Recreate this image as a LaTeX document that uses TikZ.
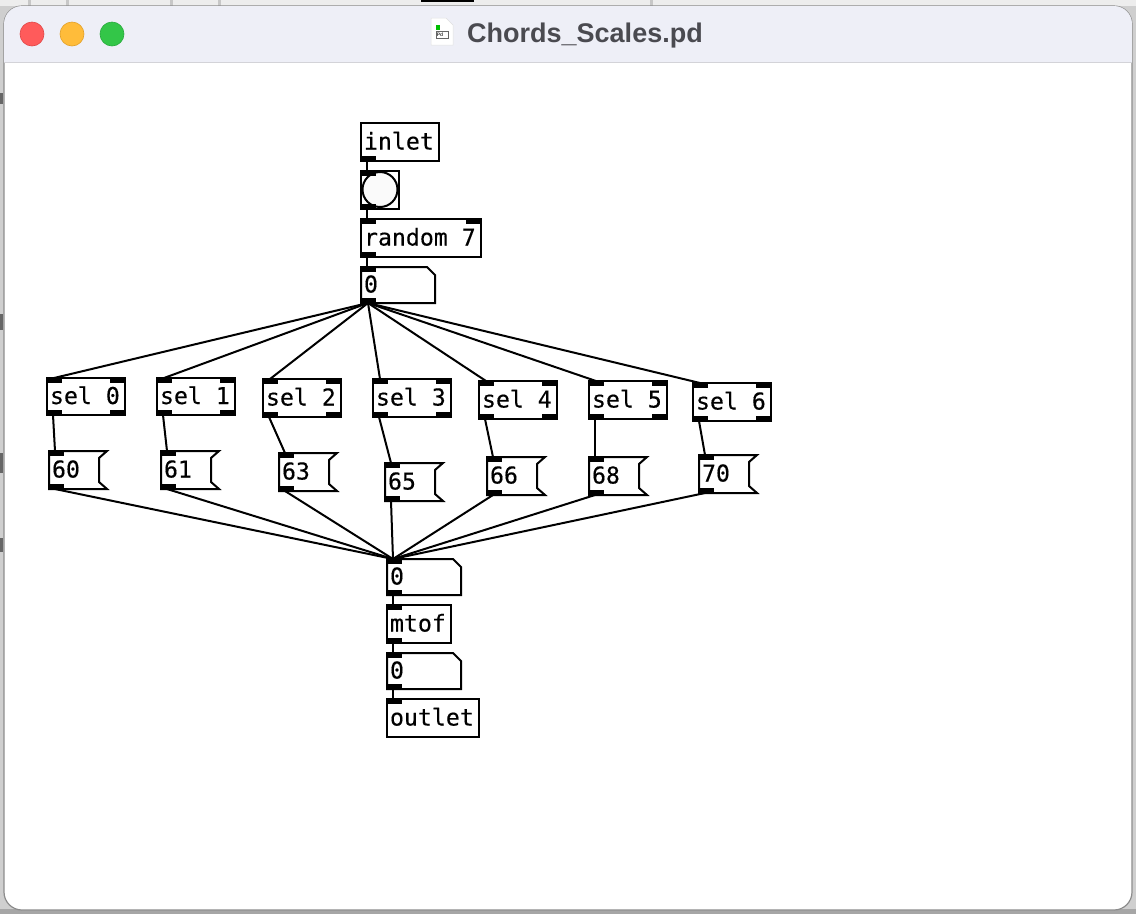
\documentclass[tikz,border=0pt]{standalone}
\usepackage{fontspec}
\setmainfont{Liberation Sans}
\setmonofont[RawFeature={embolden=0.35}]{DejaVu Sans Mono}
\usetikzlibrary{positioning}

\definecolor{backdrop}{HTML}{CFCFCF}
\definecolor{titlebar}{HTML}{EEEFF7}
\definecolor{titleline}{HTML}{D3D3D8}
\definecolor{titletext}{HTML}{4A4A50}

\newcommand{\portNW}{\fill (path picture bounding box.north west) rectangle ++(15pt,-5pt);}
\newcommand{\portNE}{\fill (path picture bounding box.north east) rectangle ++(-15pt,-5pt);}
\newcommand{\portSW}{\fill (path picture bounding box.south west) rectangle ++(15pt,5pt);}
\newcommand{\portSE}{\fill (path picture bounding box.south east) rectangle ++(-15pt,5pt);}

\begin{document}
\begin{tikzpicture}[
      x=1pt,y=-1pt,
      pdtext/.style={
        anchor=north west,
        align=left,
        font=\ttfamily\fontsize{23.2}{24}\selectfont,
        execute at begin node={\spaceskip=13.96pt\relax},
        text height=15pt,
        text depth=0pt,
        inner xsep=3pt,
        inner ysep=0pt,
        outer sep=0pt,
        minimum height=38pt,
        text width=#1-6pt
      },
      pdobj/.style={pdtext=#1,draw,line width=2pt,
        path picture={\portNW\portSW}},
      pdinlet/.style={pdtext=#1,draw,line width=2pt,path picture={\portSW}},
      pdoutlet/.style={pdtext=#1,draw,line width=2pt,path picture={\portNW}},
      pdrandom/.style={pdtext=#1,draw,line width=2pt,
        path picture={\portNW\portNE\portSW}},
      pdsel/.style={pdtext=78pt,draw,line width=2pt,
        path picture={\portNW\portNE\portSW\portSE}},
      pdnumber/.style={pdtext=74pt,minimum height=36pt,
        path picture={\portNW\portSW},
        append after command={\pgfextra{
          \draw[line width=2pt,line join=miter]
            (\tikzlastnode.north west) -- ([xshift=-8pt]\tikzlastnode.north east)
            -- ([yshift=-8pt]\tikzlastnode.north east) -- (\tikzlastnode.south east)
            -- (\tikzlastnode.south west) -- cycle;}}},
      pdmsg/.style={pdtext=58pt,
        path picture={\portNW\portSW},
        append after command={\pgfextra{
          \draw[line width=2pt,line join=miter]
            (\tikzlastnode.north west) -- (\tikzlastnode.north east)
            -- ([xshift=-8pt,yshift=-7pt]\tikzlastnode.north east)
            -- ([xshift=-8pt,yshift=7pt]\tikzlastnode.south east)
            -- (\tikzlastnode.south east)
            -- (\tikzlastnode.south west) -- cycle;}}},
      wire/.style={line width=2pt},
      light/.style={circle,inner sep=0pt,minimum size=24pt,line width=0.6pt}
    ]
    \useasboundingbox (0,0) rectangle (1136,914);

    % window
    \fill[backdrop] (0,0) rectangle (1136,914);
    \fill[black!7] (0,0) rectangle (1136,6);
    \fill[black!35] (0,909) rectangle (1136,914);
    \foreach \y in {28,66,170,218,650}
      \fill[black!22] (\y,0) rectangle (\y+3,6);
    \fill[black] (421,0) rectangle (474,2);
    \fill[black!60] (0,93) rectangle (3,104);
    \fill[black!60] (0,314) rectangle (3,330);
    \fill[black!60] (0,453) rectangle (3,473);
    \fill[black!60] (0,538) rectangle (3,552);
    \draw[black!45,line width=1.2pt,rounded corners=18pt,fill=white] (4,6) rectangle (1132,910);
    \begin{scope}
      \clip[rounded corners=18pt] (4,6) rectangle (1132,910);
      \fill[titlebar] (4,6) rectangle (1132,62);
      \draw[titleline,line width=1.2pt] (4,62.5) -- (1132,62.5);
    \end{scope}
    \node[light,fill={rgb,255:red,255;green,91;blue,91},draw={rgb,255:red,224;green,70;blue,70}] (closebtn) at (32,34) {};
    \node[light,fill={rgb,255:red,255;green,188;blue,58},draw={rgb,255:red,226;green,160;blue,40}] (minbtn) at (72,34) {};
    \node[light,fill={rgb,255:red,51;green,198;blue,72},draw={rgb,255:red,40;green,170;blue,60}] (zoombtn) at (112,34) {};

    % file icon
    \filldraw[fill=white,draw=black!12,line width=0.5pt] (431,18) -- (446,18) -- (453,25) -- (453,45) -- (431,45) -- cycle;
    \fill[green!75!black] (435.5,25) rectangle (440,30);
    \draw[black!60,line width=0.5pt] (436,31.5) rectangle (448.5,38);
    \node[inner sep=0pt,font=\bfseries\fontsize{5}{5}\selectfont,text=black!75] (iconlabel) at (440,35) {Pd};
    \node[anchor=west,inner sep=0pt,font=\bfseries\fontsize{27}{30}\selectfont,text=titletext] (title) at (467,36) {Chords\_Scales.pd};

    % patch
    \node[circle,draw,fill=black!2,line width=2pt,inner sep=0pt,minimum size=35pt] (bangdisc) at (380,189.5) {};
    \node[pdinlet=78pt] (inlet) at (361,123) {inlet};
    \node[pdobj=38pt] (bang) at (361,171) {};
    \node[pdrandom=120pt] (random) at (361,219) {random 7};
    \node[pdnumber] (choice) at (361,267) {0};

    \node[pdsel,minimum height=37pt] (sel0) at (47,378) {sel 0};
    \node[pdsel,minimum height=37pt] (sel1) at (157,378) {sel 1};
    \node[pdsel] (sel2) at (263,379) {sel 2};
    \node[pdsel] (sel3) at (373,379) {sel 3};
    \node[pdsel] (sel4) at (479,381) {sel 4};
    \node[pdsel] (sel5) at (589,381) {sel 5};
    \node[pdsel] (sel6) at (693,383) {sel 6};

    \node[pdmsg] (msg0) at (49,451) {60};
    \node[pdmsg] (msg1) at (161,451) {61};
    \node[pdmsg] (msg2) at (279,453) {63};
    \node[pdmsg] (msg3) at (385,463) {65};
    \node[pdmsg] (msg4) at (487,457) {66};
    \node[pdmsg] (msg5) at (589,457) {68};
    \node[pdmsg] (msg6) at (699,455) {70};

    \node[pdnumber] (note) at (387,559) {0};
    \node[pdobj=64pt] (mtof) at (387,605) {mtof};
    \node[pdnumber] (freq) at (387,653) {0};
    \node[pdoutlet=92pt] (outlet) at (387,699) {outlet};

    \draw[wire] ([xshift=6pt]inlet.south west) -- ([xshift=6pt]bang.north west);
    \draw[wire] ([xshift=6pt]bang.south west) -- ([xshift=6pt]random.north west);
    \draw[wire] ([xshift=6pt]random.south west) -- ([xshift=6pt]choice.north west);
    \foreach \i in {0,...,6} {
      \draw[wire] ([xshift=7pt]choice.south west) -- ([xshift=7pt]sel\i.north west);
      \draw[wire] ([xshift=6pt]sel\i.south west) -- ([xshift=6pt]msg\i.north west);
      \draw[wire] ([xshift=6pt]msg\i.south west) -- ([xshift=6pt]note.north west);
    }
    \draw[wire] ([xshift=6pt]note.south west) -- ([xshift=6pt]mtof.north west);
    \draw[wire] ([xshift=6pt]mtof.south west) -- ([xshift=6pt]freq.north west);
    \draw[wire] ([xshift=6pt]freq.south west) -- ([xshift=6pt]outlet.north west);
\end{tikzpicture}
\end{document}
